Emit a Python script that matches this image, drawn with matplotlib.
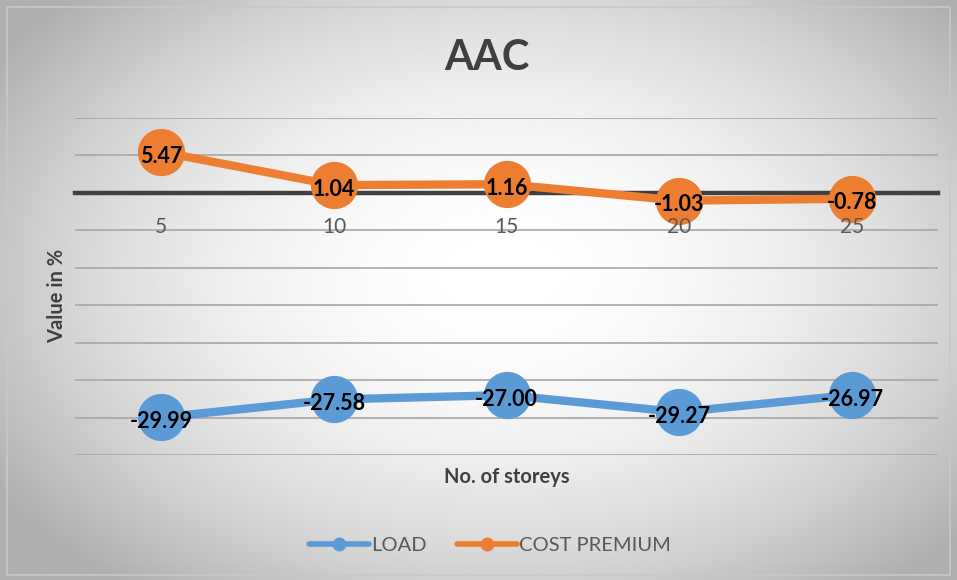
import numpy as np
import matplotlib.pyplot as plt
from matplotlib.lines import Line2D
from matplotlib.patches import Rectangle

storeys = ["5", "10", "15", "20", "25"]
load = [-29.99, -27.58, -27.00, -29.27, -26.97]
cost_premium = [5.47, 1.04, 1.16, -1.03, -0.78]

plt.rcParams['font.family'] = ['Lato', 'DejaVu Sans']

fig = plt.figure(figsize=(9.57, 5.80), dpi=100)

# radial grey gradient background
bg = fig.add_axes([0, 0, 1, 1], zorder=0)
gx, gy = np.meshgrid(np.linspace(-1, 1, 400), np.linspace(-1, 1, 300))
r = np.sqrt(((gx - 0.05) / 1.05) ** 2 + ((gy + 0.05) / 1.15) ** 2)
bg.imshow(1.0 - 0.22 * np.clip(r, 0, 1.2) ** 2, cmap='gray', vmin=0, vmax=1,
          aspect='auto', extent=[0, 1, 0, 1])
bg.add_patch(Rectangle((0.007, 0.008), 0.986, 0.98, fill=False, ec='#c8c8c8', lw=1.2,
                       transform=bg.transAxes))
bg.axis('off')

ax = fig.add_axes([0.0784, 0.2155, 0.902, 0.581], zorder=1)
ax.patch.set_alpha(0)
x = np.arange(len(storeys))

ax.set_ylim(-35, 10)
ax.set_xlim(-0.5, len(storeys) - 0.5)
ax.set_yticks(np.arange(-35, 11, 5))
ax.yaxis.grid(True, color='#a6a6a6', lw=1.2)
ax.set_axisbelow(True)
ax.tick_params(axis='y', length=0, labelleft=False)

for s in ['top', 'right', 'left']:
    ax.spines[s].set_visible(False)
ax.spines['bottom'].set_position(('data', 0))
ax.spines['bottom'].set_color('#404040')
ax.spines['bottom'].set_linewidth(3.2)
ax.spines['bottom'].set_zorder(2)
ax.set_xticks(x)
ax.set_xticklabels(storeys, fontsize=15, color='#595959')
ax.tick_params(axis='x', length=0, pad=17)
ax.xaxis.set_zorder(5)

blue = '#5B9BD5'
orange = '#ED7D31'
ax.plot(x, load, color=blue, lw=6, marker='o', ms=33, zorder=3, clip_on=False)
ax.plot(x, cost_premium, color=orange, lw=6, marker='o', ms=33, zorder=3, clip_on=False)

for xi, v in zip(x, load):
    ax.annotate(f"{v:.2f}", (xi, v), xytext=(0, -3), textcoords='offset points',
                ha='center', va='center', fontsize=15.5, fontweight='bold',
                color='black', zorder=4)
for xi, v in zip(x, cost_premium):
    ax.annotate(f"{v:.2f}", (xi, v), xytext=(0, -3), textcoords='offset points',
                ha='center', va='center', fontsize=15.5, fontweight='bold',
                color='black', zorder=4)

fig.text(0.509, 0.9, "AAC", ha='center', va='center', fontsize=30,
         fontweight='bold', color='#404040')
fig.text(0.06, 0.49, "Value in %", ha='center', va='center', rotation=90,
         fontsize=14.5, fontweight='bold', color='#404040')
fig.text(0.53, 0.178, "No. of storeys", ha='center', va='center', fontsize=14.5,
         fontweight='bold', color='#404040')

handles = [Line2D([0], [0], color=blue, lw=4, marker='o', ms=9, solid_capstyle='round'),
           Line2D([0], [0], color=orange, lw=4, marker='o', ms=9, solid_capstyle='round')]
fig.legend(handles, ["LOAD", "COST PREMIUM"], loc='center', bbox_to_anchor=(0.512, 0.06),
           ncol=2, frameon=False, fontsize=14.5, labelcolor='#595959',
           handlelength=3, handletextpad=0.1, columnspacing=1.5)

fig.savefig('out.png', dpi=100)
